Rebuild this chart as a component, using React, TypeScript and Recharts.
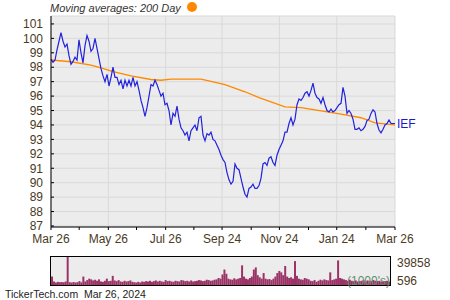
import React from 'react';
import { LineChart, Line, XAxis, YAxis, CartesianGrid, BarChart, Bar } from 'recharts';

const TOTAL_DAYS = 366;
const majorTickDays = [0, 61, 122, 182, 243, 304, 366];
const minorTickDays = [30, 91, 152, 213, 274, 335];
const tickLabels = ['Mar 26', 'May 26', 'Jul 26', 'Sep 24', 'Nov 24', 'Jan 24', 'Mar 26'];
const yTicks = [87, 88, 89, 90, 91, 92, 93, 94, 95, 96, 97, 98, 99, 100, 101];

const prices = [
  98.55, 98.35, 98.5, 99.2, 99.8, 100.4, 99.8, 99.4, 99.6, 98.8,
  98.2, 98.4, 98.7, 98.5, 99.9, 99.0, 98.3, 99.5, 100.2, 99.8,
  99.1, 99.3, 100.0, 99.3, 98.6, 97.9, 97.4, 97.0, 97.5, 96.7,
  97.3, 98.0, 97.3, 97.3, 96.8, 97.1, 96.5, 97.1, 96.7, 97.1,
  96.7, 97.3, 96.7, 97.0, 96.4, 95.7, 95.2, 94.6, 95.2, 96.0,
  96.8, 96.7, 97.1, 96.8, 96.4, 96.0, 96.2, 95.4, 95.5, 95.0,
  94.0, 94.8, 94.6, 95.3, 94.4, 93.8, 93.6, 93.3, 93.5, 92.9,
  93.6, 93.8, 94.0, 93.6, 94.5, 94.6, 93.3, 92.9, 93.4, 93.3,
  93.5, 93.0, 92.9, 92.6, 92.3, 91.9, 91.6, 91.4, 90.7, 90.2,
  89.9, 90.1, 91.3, 91.0, 90.9, 90.3, 89.7, 89.2, 89.0, 89.6,
  89.7, 89.9, 89.6, 89.6, 89.8, 90.3, 91.3, 91.4, 91.2, 91.7,
  91.8, 91.4, 91.2, 91.9, 92.3, 92.6, 92.9, 93.5, 93.5, 94.1,
  94.5, 94.0, 94.4, 95.4, 95.8, 95.7, 95.9, 96.2, 96.3, 96.0,
  96.4, 96.9, 96.2, 95.9, 95.8, 95.5, 95.9, 95.4, 95.0, 94.9,
  95.1, 94.9, 95.0, 95.2, 95.4, 95.5, 96.6, 96.0, 94.8, 95.0,
  94.8, 94.4, 93.7, 93.7, 93.8, 93.6, 93.7, 93.9, 94.3, 94.4,
  94.8, 95.05, 94.9, 94.1, 93.65, 93.45, 93.7, 94.0, 94.1, 94.35,
  94.1, 94.1, 94.1,
];

// [sample index, 200-day moving average]
const maPoints: [number, number][] = [
  [0, 98.5], [10, 98.38], [20, 98.15], [25, 97.95], [31, 97.7], [40, 97.4],
  [50, 97.15], [55, 97.1], [60, 97.18], [75, 97.18], [80, 97.02], [87, 96.8],
  [97, 96.3], [104, 95.9], [110, 95.6], [117, 95.25], [125, 95.2], [132, 95.05],
  [145, 94.75], [155, 94.5], [162, 94.15], [172, 94.0],
];

const volumes = [
  12000, 5000, 3500, 4500, 4000, 4200, 3800, 5000, 39858, 4000,
  3500, 4200, 3600, 4000, 5500, 3800, 12000, 5000, 7000, 9000,
  8000, 6500, 7500, 6000, 8000, 5000, 4500, 6000, 9000, 5500,
  6000, 13000, 6500, 5500, 7000, 5000, 4500, 6000, 5000, 5500,
  6500, 4500, 4000, 3500, 4500, 3500, 5000, 4500, 5500, 5000,
  6000, 4500, 5500, 6500, 5000, 6000, 5000, 4500, 7000, 5500,
  6000, 5000, 4500, 6000, 5500, 5000, 7000, 6500, 5500, 6000,
  5000, 6500, 5000, 5500, 6000, 7000, 6500, 5500, 6000, 7500,
  7000, 6000, 6500, 7500, 8000, 10000, 9000, 15000, 22000, 16000,
  9000, 8000, 7500, 9500, 8000, 9000, 10000, 28000, 12000, 9000,
  8000, 10000, 12000, 22000, 25000, 14000, 11000, 9000, 17000, 9000,
  8000, 8500, 7000, 9000, 12000, 17000, 20000, 18000, 14000, 27000,
  12000, 10000, 11000, 9000, 34000, 13000, 9000, 8000, 7500, 10000,
  9000, 8000, 6000, 5500, 7000, 4500, 6000, 7500, 6500, 8000,
  7000, 6500, 18000, 7000, 8000, 9000, 35000, 10000, 9000, 8000,
  7000, 6000, 7500, 6000, 5500, 6500, 5000, 5500, 6000, 7000,
  5000, 6500, 6000, 5500, 7000, 6000, 5500, 6000, 5000, 5000,
  5500, 6000, 5000,
];
const volTicks = [596, 39858];

const FONT = "Arial, 'Liberation Sans', sans-serif";
const TEXT = '#4a3a1e';

const n = prices.length;
const maMap = new Map<number, number>(maPoints);
const data = prices.map((p, i) => ({
  day: (i * TOTAL_DAYS) / (n - 1),
  price: p,
  ma: maMap.has(i) ? maMap.get(i) : null,
}));
const volData = volumes.map((v, i) => ({ i, vol: v }));
const allXTicks = [...majorTickDays, ...minorTickDays].sort((a, b) => a - b);

const fmtX = (d: number) => {
  const k = majorTickDays.indexOf(d);
  return k >= 0 ? tickLabels[k] : '';
};

const IefLabel = (props: any) => {
  const { x, y, index } = props;
  if (index !== n - 1) return null;
  return (
    <text x={x + 2} y={y} dominantBaseline="central" fill="#1a1acc" fontSize={12} fontFamily={FONT}>
      IEF
    </text>
  );
};

const VolTick = (props: any) => {
  const { x, y, payload } = props;
  const dy = payload.value === volTicks[1] ? 6 : -4;
  return (
    <text x={x} y={y + dy} dominantBaseline="central" textAnchor="start" fill={TEXT} fontSize={12} fontFamily={FONT}>
      {payload.value}
    </text>
  );
};

export default function App() {
  return (
    <div style={{ position: 'absolute', left: 0, top: 0, width: 450, height: 300, background: '#fff', fontFamily: FONT }}>
      <div style={{ position: 'absolute', left: 50, top: 0, height: 16, lineHeight: '16px', fontSize: 11, fontStyle: 'italic', color: '#333' }}>
        Moving averages: 200 Day
      </div>
      <div style={{ position: 'absolute', left: 187, top: 2, width: 10, height: 10, borderRadius: 5, background: '#ff8800' }} />
      <div style={{ position: 'absolute', left: 0, top: 0 }}>
        <LineChart width={450} height={250} data={data} margin={{ top: 16, right: 55, left: 0, bottom: 0 }}>
          <CartesianGrid xAxisId="grid" fill="#ececec" stroke="#d9d9d9" strokeWidth={1} />
          <XAxis
            dataKey="day"
            type="number"
            domain={[0, TOTAL_DAYS]}
            ticks={allXTicks}
            tickFormatter={fmtX}
            interval={0}
            height={23}
            tickSize={3}
            tickMargin={4}
            stroke="#000"
            tick={{ fill: TEXT, fontSize: 12, fontFamily: FONT }}
          />
          <XAxis
            xAxisId="grid"
            dataKey="day"
            type="number"
            domain={[0, TOTAL_DAYS]}
            ticks={majorTickDays}
            hide
          />
          <YAxis
            type="number"
            domain={[86.93, 101.55]}
            ticks={yTicks}
            interval={0}
            width={51}
            tickSize={-3}
            tickMargin={11}
            stroke="#000"
            tick={{ fill: TEXT, fontSize: 12, fontFamily: FONT }}
          />
          <Line
            type="linear"
            dataKey="ma"
            stroke="#ff8800"
            strokeWidth={1.3}
            dot={false}
            connectNulls
            isAnimationActive={false}
          />
          <Line
            type="linear"
            dataKey="price"
            stroke="#2222dd"
            strokeWidth={1.2}
            dot={false}
            label={<IefLabel />}
            isAnimationActive={false}
          />
        </LineChart>
      </div>
      <div style={{ position: 'absolute', left: 50, top: 256, width: 341, height: 30, boxSizing: 'border-box', border: '1px solid #000', background: '#ececec' }} />
      <div style={{ position: 'absolute', left: 0, top: 257 }}>
        <BarChart width={450} height={40} data={volData} margin={{ top: 0, right: 0, left: 51, bottom: 12 }} barCategoryGap={0}>
          <XAxis dataKey="i" hide />
          <YAxis
            orientation="right"
            domain={[0, 39858]}
            ticks={volTicks}
            interval={0}
            width={60}
            axisLine={false}
            tickLine={false}
            tickSize={0}
            tickMargin={7}
            tick={<VolTick />}
          />
          <Bar dataKey="vol" fill="#9b3366" isAnimationActive={false} />
        </BarChart>
      </div>
      <div style={{ position: 'absolute', left: 347, top: 274, fontSize: 12, lineHeight: '14px', color: '#5f8f6f' }}>
        (1000's)
      </div>
      <div style={{ position: 'absolute', left: 5, top: 288, fontSize: 10.5, lineHeight: '12px', color: '#222' }}>
        TickerTech.com&nbsp;&nbsp;Mar 26, 2024
      </div>
    </div>
  );
}
